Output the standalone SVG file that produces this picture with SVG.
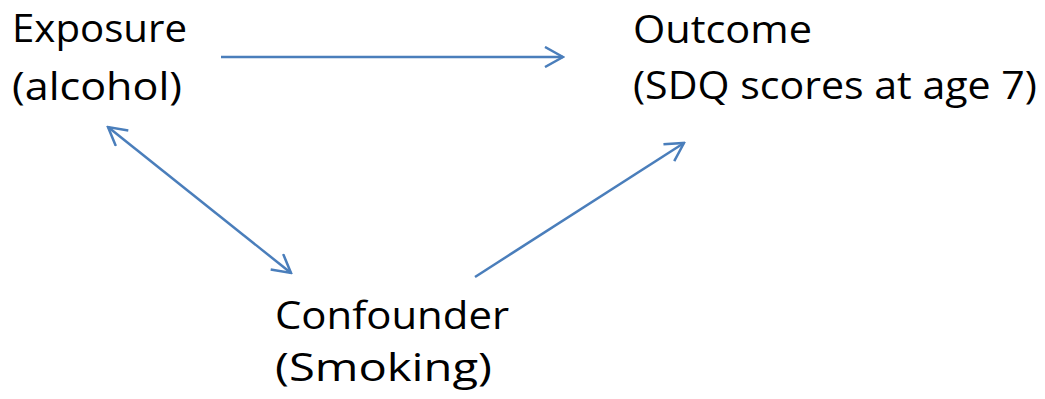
<svg xmlns="http://www.w3.org/2000/svg" width="1045" height="399" viewBox="0 0 1045 399">
<style>
.lbl{font-family:"Open Sans","Liberation Sans",sans-serif;font-size:38px;fill:#000}
.c{stroke:#4a7ebb;stroke-width:2.5;fill:none}
</style>
<defs>
<marker id="ah" viewBox="0 0 22 22" refX="20" refY="11" markerWidth="22" markerHeight="22" markerUnits="userSpaceOnUse" orient="auto-start-reverse">
<path d="M2,1 L20,11 L2,21" fill="none" stroke="#4a7ebb" stroke-width="2.5"/>
</marker>
</defs>
<rect width="1045" height="399" fill="#fff"/>
<g id="connectors">
<line class="c" x1="221" y1="57" x2="563" y2="57" marker-end="url(#ah)"/>
<line class="c" x1="108" y1="127" x2="291" y2="273" marker-start="url(#ah)" marker-end="url(#ah)"/>
<line class="c" x1="475" y1="277" x2="684" y2="143" marker-end="url(#ah)"/>
</g>
<g id="exposure">
<text class="lbl" x="12" y="42" textLength="175" lengthAdjust="spacingAndGlyphs">Exposure</text>
<text class="lbl" x="12" y="100" textLength="170" lengthAdjust="spacingAndGlyphs">(alcohol)</text>
</g>
<g id="outcome">
<text class="lbl" x="633" y="43" textLength="179" lengthAdjust="spacingAndGlyphs">Outcome</text>
<text class="lbl" x="633" y="99" textLength="404" lengthAdjust="spacingAndGlyphs">(SDQ scores at age 7)</text>
</g>
<g id="confounder">
<text class="lbl" x="275" y="329" textLength="234" lengthAdjust="spacingAndGlyphs">Confounder</text>
<text class="lbl" x="275" y="381" textLength="217" lengthAdjust="spacingAndGlyphs">(Smoking)</text>
</g>
</svg>
